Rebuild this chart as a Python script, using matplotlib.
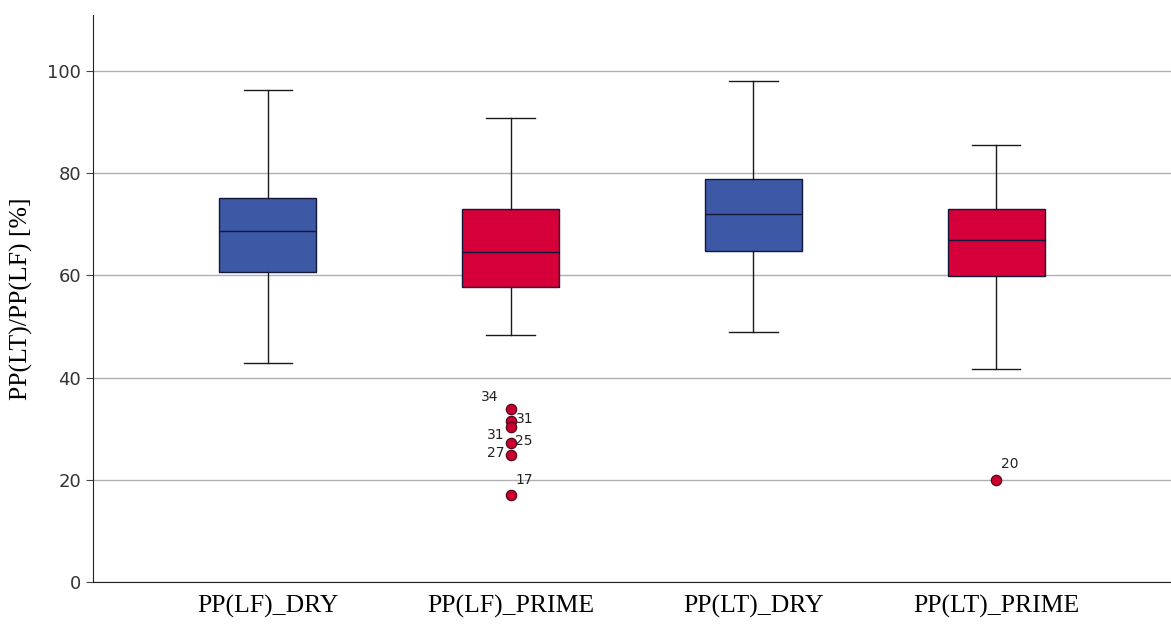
import matplotlib
matplotlib.use("Agg")
import matplotlib.pyplot as plt

# Box statistics
groups = ["PP(LF)_DRY", "PP(LF)_PRIME", "PP(LT)_DRY", "PP(LT)_PRIME"]
whisk_lo = [42.9, 48.3, 48.9, 41.7]
q1 = [60.7, 57.7, 64.8, 59.9]
medians = [68.7, 64.6, 72.0, 66.9]
q3 = [75.1, 73.0, 78.9, 73.0]
whisk_hi = [96.3, 90.8, 98.0, 85.5]
outliers = [[], [33.9, 31.5, 30.4, 27.2, 24.9, 17.0], [], [20.0]]

# case-number labels: (group, text, value, side)
case_group = [1, 1, 1, 1, 1, 1, 3]
case_text = ["34", "31", "31", "25", "27", "17", "20"]
case_value = [33.9, 31.5, 27.2, 27.2, 24.9, 17.0, 20.0]
case_side = ["above-left", "right", "above-left", "right", "left", "above-right", "above-right"]

BLUE = "#3D59A6"
RED = "#D5003A"
box_colors = [BLUE, RED, BLUE, RED]

fig = plt.figure(figsize=(11.71, 6.24), dpi=100)
ax = fig.add_axes([0.0794, 0.0673, 0.9206, 0.909])

stats = []
for i in range(len(groups)):
    stats.append({"whislo": whisk_lo[i], "q1": q1[i], "med": medians[i],
                  "q3": q3[i], "whishi": whisk_hi[i], "fliers": outliers[i]})

bp = ax.bxp(stats, positions=range(len(groups)), widths=0.4, patch_artist=True,
            showfliers=True,
            boxprops=dict(edgecolor="#14163a", linewidth=1.0),
            medianprops=dict(color="#14163a", linewidth=1.0),
            whiskerprops=dict(color="#1a1a1a", linewidth=1.0),
            capprops=dict(color="#1a1a1a", linewidth=1.0),
            flierprops=dict(marker="o", markerfacecolor="#C8002F", markeredgecolor="#4a0014",
                            markersize=7.5, markeredgewidth=0.8))
for patch, c in zip(bp["boxes"], box_colors):
    patch.set_facecolor(c)
for line in bp["caps"]:
    xd = line.get_xdata()
    mid = (xd[0] + xd[1]) / 2
    line.set_xdata([mid - 0.1, mid + 0.1])

# case labels next to outliers
offsets = {"above-left": (-0.05, 2.4, "right"), "left": (-0.025, 0.3, "right"),
           "right": (0.02, 0.4, "left"), "above-right": (0.02, 3.0, "left")}
for g, t, v, s in zip(case_group, case_text, case_value, case_side):
    dx, dy, ha = offsets[s]
    if s == "above-left" and t == "31":
        dy = 1.6
        dx = -0.025
    ax.text(g + dx, v + dy, t, ha=ha, va="center", fontsize=10,
            color="#222222", family="DejaVu Sans")

ax.set_xlim(-0.72, 3.72)
ax.set_ylim(0, 111)
ax.set_yticks([0, 20, 40, 60, 80, 100])
ax.yaxis.grid(True, color="#b0b0b0", linewidth=1.0)
ax.set_axisbelow(True)
ax.set_xticks(range(len(groups)))
ax.set_xticklabels(groups, family="Liberation Serif", fontsize=18.5)
ax.set_ylabel("PP(LT)/PP(LF) [%]", family="Liberation Serif", fontsize=18.5, labelpad=10)
ax.tick_params(axis="y", labelsize=13, colors="#444444", length=5, width=0.8)
ax.tick_params(axis="x", length=0, pad=9)
for lab in ax.get_yticklabels():
    lab.set_color("#333333")
ax.spines["top"].set_visible(False)
ax.spines["right"].set_visible(False)
ax.spines["left"].set_color("#222222")
ax.spines["bottom"].set_color("#222222")

fig.savefig("out.png", dpi=100)
